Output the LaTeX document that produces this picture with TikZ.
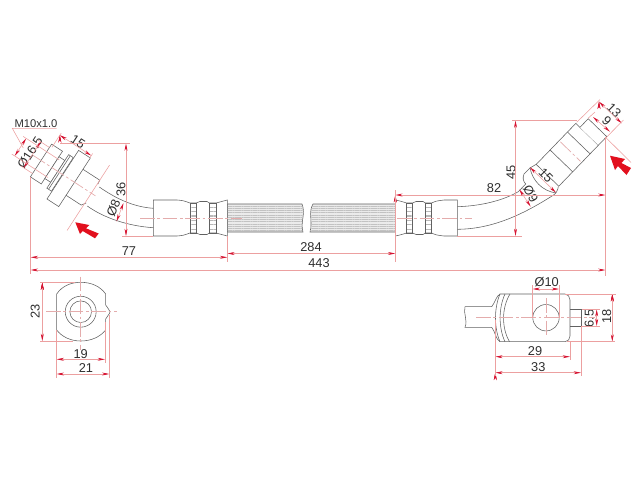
\documentclass[tikz,border=0pt]{standalone}
\usepackage{fontspec}
\setmainfont{Liberation Sans}
\usetikzlibrary{arrows.meta,patterns.meta}

\definecolor{paleline}{RGB}{236,160,160}
\definecolor{centreline}{RGB}{228,172,172}
\definecolor{tipred}{RGB}{214,20,50}
\definecolor{bigred}{RGB}{226,16,30}

\tikzset{
  part/.style={draw=black!62,line width=.42pt},
  ext/.style={draw=paleline,line width=.42pt},
  cline/.style={draw=centreline,line width=.5pt,dash pattern=on 11pt off 2pt on 2pt off 2pt},
  dimline/.style={draw=paleline,line width=.42pt,
    {Stealth[length=5.5pt,width=2.2pt,color=tipred]}-{Stealth[length=5.5pt,width=2.2pt,color=tipred]}},
  bigarrow/.style={fill=bigred,draw=none},
  groove/.style={part,pattern={Lines[angle=0,distance=3.3pt,line width=.9pt]},pattern color=black!28},
  hose/.style={part,fill=black!8,postaction={pattern={Lines[angle=0,distance=1.7pt,line width=.35pt]},pattern color=black!24}}
}

\begin{document}
\begin{tikzpicture}[x=.75pt,y=-.75pt]
  \useasboundingbox (0,0) rectangle (640,480);

  % hose with the break
  \draw[hose] (227.3,204) -- (302,204) .. controls (306,214) and (300,222) .. (303,232) -- (227.3,232) -- cycle;
  \draw[hose] (313,204) .. controls (308,212) and (313,222) .. (310,232) -- (395.3,232) -- (395.3,204) -- cycle;

  % crimp collars
  \draw[part,fill=white] (153.3,200) -- (177,200) .. controls (183,200.5) .. (190,203) -- (196,203)
    .. controls (198,201.5) .. (200,201.5) -- (207,201.5) .. controls (208,201.5) .. (209.5,203) -- (216,203)
    .. controls (221,202) .. (227.3,200) -- (227.3,236) .. controls (221,234) .. (216,233) -- (209.5,233)
    .. controls (208,234.5) .. (207,234.5) -- (200,234.5) .. controls (198,234.5) .. (196,233) -- (190,233)
    .. controls (183,235.5) .. (177,236) -- (153.3,236) -- cycle;
  \draw[groove] (190,203) rectangle (196,233);
  \draw[groove] (209.5,203) rectangle (216,233);
  \draw[part,fill=white] (395.3,200) .. controls (400,201) .. (406.7,203) -- (412.7,203)
    .. controls (414,201.5) .. (416,201.5) -- (423,201.5) .. controls (424,201.5) .. (425.5,203) -- (431.7,203)
    .. controls (436,201) .. (444,200) -- (457.3,200) -- (457.3,236) -- (444,236)
    .. controls (436,235) .. (431.7,233) -- (425.5,233) .. controls (424,234.5) .. (423,234.5) -- (416,234.5)
    .. controls (414,234.5) .. (412.7,233) -- (406.7,233) .. controls (400,235) .. (395.3,236) -- cycle;
  \draw[groove] (406.7,203) rectangle (412.7,233);
  \draw[groove] (425.5,203) rectangle (431.7,233);

  % bent hose ends
  \draw[part] (99.3,187) .. controls (118,200) and (135,207) .. (153.3,208.3);
  \draw[part] (87.3,206) .. controls (104,218) and (128,226) .. (153.3,227.7);
  \draw[part] (457.3,206.7) .. controls (480,206) and (502,201) .. (518.3,191.7);
  \draw[part] (457.3,229.3) .. controls (492,229) and (522,215) .. (552,196);

  % left fitting
  \begin{scope}[shift={(41,160.5)},rotate=-33]
    \draw[part,fill=white] (0,-19.5) rectangle (13,19.5);
    \draw[part,fill=white] (13,-13) rectangle (20,13);
    \draw[part,fill=white] (20,-20) rectangle (25.5,20);
    \draw[part] (22,-20) -- (22,20);
    \draw[part,fill=white] (26,-29) rectangle (40,29);
    \draw[part] (40,-15.5) -- (60,-15.5) .. controls (60.5,-13) .. (60.5,-11);
    \draw[part] (40,15.5) -- (58,15.5) .. controls (60,14) .. (61,11);
    \draw[cline] (-10,0) -- (65,0);
    \coordinate (mten1) at (-24.5,-10.5);
    \coordinate (mten2) at (-24.5,10.5);
    \coordinate (mtenA) at (-28,-10.5);
    \coordinate (mtenB) at (15,-10.5);
    \coordinate (mtenC) at (-28,10.5);
    \coordinate (mtenD) at (15,10.5);
    \coordinate (outer1) at (-10.5,-15.5);
    \coordinate (outer2) at (-10.5,15.5);
    \coordinate (outerA) at (-14,-15.5);
    \coordinate (outerB) at (0,-15.5);
    \coordinate (outerC) at (-14,15.5);
    \coordinate (outerD) at (0,15.5);
    \coordinate (lenA) at (2,-31.5);
    \coordinate (lenB) at (39.5,-31.5);
    \coordinate (lenAext) at (2,-34);
    \coordinate (lenAend) at (2,-17);
    \coordinate (lenBext) at (39.5,-34);
    \coordinate (lenBend) at (39.5,-29);
    \coordinate (plane1) at (60,-33.5);
    \coordinate (plane2) at (60,44.5);
  \end{scope}

  % right fitting
  \draw[part] (536.7,164) -- (530,168) -- (524,174) .. controls (522.5,178) and (523,181) .. (525.7,184) -- (518.3,191.7);
  \draw[part] (558.3,186.7) .. controls (558,190) and (556,194) .. (552,196);
  \draw[part] (530,167.5) .. controls (532,180) and (542,191) .. (556,193);
  \begin{scope}[shift={(547.5,175.3)},rotate=46]
    \draw[part,fill=white] (0,-15.7) rectangle (57,15.7);
    \draw[part,fill=white] (57,-10) -- (69,-10) -- (69,15.7) -- (57,15.7);
    \draw[part] (20,-15.7) -- (20,15.7);
    \draw[part] (45,-15.7) -- (45,15.7);
    \draw[cline] (33,-14) -- (33,14);
  \end{scope}

  % centre lines
  \draw[cline] (140,218) -- (242,218);
  \draw[cline] (397,218) -- (472,218);

  \begin{scope}[every node/.style={inner sep=0pt,text=black!82,font=\fontsize{9.6}{11}\selectfont}]
    % top labels
    \node (mtext)   at (36,123.5) [font=\fontsize{8.4}{10}\selectfont] {M10x1.0};
    \node (tdia)    at (30,152.5) [rotate=57]  {Ø16.5};
    \node (tlenl)   at (78,141.5) [rotate=-33] {15};
    \node (tsix)    at (121,189)  [rotate=90]  {36};
    \node (teight)  at (113.5,208)[rotate=68]  {Ø8};
    \node (tseven)  at (129,251)  {77};
    \node (ttwo)    at (311,247)  {284};
    \node (tfour)   at (319,263)  {443};
    \node (teighty) at (494,188)  {82};
    \node (tforty)  at (511,172.5)[rotate=90]  {45};
    \node (tnine)   at (530.7,194)[rotate=-60] {Ø9};
    \node (tlenr)   at (546,175.5)[rotate=-45] {15};
    \node (tend)    at (606.7,121)[rotate=-45] {9};
    \node (tthir)   at (614,110)  [rotate=-45] {13};
    % left end view labels
    \node (taa)     at (35.3,311.7)[rotate=90] {23};
    \node (tnt)     at (80.7,354.3) {19};
    \node (ttw)     at (86,368.3)   {21};
    % right end view labels
    \node (thole)   at (546.7,281.7) {Ø10};
    \node (tnub)    at (589.3,318.3) [rotate=90] {6.5};
    \node (theight) at (606.7,316.7) [rotate=90] {18};
    \node (tpin)    at (535,351)     {29};
    \node (tall)    at (538.3,366.7) {33};
  \end{scope}

  % named ends of the dimension lines
  \coordinate (a1) at (30.7,257.3);
  \coordinate (a2) at (227.3,257.3);
  \coordinate (b1) at (227.3,253.5);
  \coordinate (b2) at (395.3,253.5);
  \coordinate (c1) at (30.7,270);
  \coordinate (c2) at (605.5,270);
  \coordinate (d1) at (395.3,195);
  \coordinate (d2) at (605.5,195);
  \coordinate (e1) at (515.5,120.5);
  \coordinate (e2) at (515.5,236);
  \coordinate (f1) at (126,143.5);
  \coordinate (f2) at (126,236);
  \coordinate (g1) at (123.5,203);
  \coordinate (g2) at (116.5,221.5);
  \coordinate (h1) at (599,101.7);
  \coordinate (h2) at (621.7,123.3);
  \coordinate (i1) at (593,117);
  \coordinate (i2) at (610,131.7);
  \coordinate (j1) at (530,167.3);
  \coordinate (j2) at (556,192.7);
  \coordinate (k1) at (519.3,189.3);
  \coordinate (k2) at (530.7,206.7);
  \coordinate (l1) at (42.3,282.5);
  \coordinate (l2) at (42.3,341);
  \coordinate (m1) at (56.7,359.3);
  \coordinate (m2) at (105,359.3);
  \coordinate (n1) at (56.7,374);
  \coordinate (n2) at (109.3,374);
  \coordinate (o1) at (532.7,289);
  \coordinate (o2) at (559,289);
  \coordinate (p1) at (612.3,294);
  \coordinate (p2) at (612.3,341.7);
  \coordinate (q1) at (596.7,309.3);
  \coordinate (q2) at (596.7,326);
  \coordinate (r1) at (495.3,356.7);
  \coordinate (r2) at (570,356.7);
  \coordinate (s1) at (495.3,372.7);
  \coordinate (s2) at (581,372.7);

  \path[dimline] (a1) edge (a2) (b1) edge (b2) (c1) edge (c2) (d1) edge (d2);
  \path[dimline] (e1) edge (e2) (f1) edge (f2) (g1) edge (g2) (h1) edge (h2);
  \path[dimline] (i1) edge (i2) (j1) edge (j2) (k1) edge (k2) (l1) edge (l2);
  \path[dimline] (m1) edge (m2) (n1) edge (n2) (o1) edge (o2) (p1) edge (p2);
  \path[dimline] (q1) edge (q2) (r1) edge (r2) (s1) edge (s2);
  \path[dimline] (mten1) edge (mten2) (outer1) edge (outer2) (lenA) edge (lenB);

  % extension lines, top view
  \draw[ext] (30.7,177) -- (30.7,274);
  \draw[ext] (227.3,236) -- (227.3,262);
  \draw[ext] (395.3,190) -- (395.3,262);
  \draw[ext] (605.5,137) -- (605.5,276);
  \draw[ext] (577,120.5) -- (512,120.5);
  \draw[ext] (457.3,236) -- (522,236);
  \draw[ext] (60,143.5) -- (130,143.5);
  \draw[ext] (122,236) -- (153.3,236);
  \draw[ext] (plane1) -- (plane2);
  \draw[ext] (mtenA) -- (mtenB);
  \draw[ext] (mtenC) -- (mtenD);
  \draw[ext] (outerA) -- (outerB);
  \draw[ext] (outerC) -- (outerD);
  \draw[ext] (lenAext) -- (lenAend);
  \draw[ext] (lenBext) -- (lenBend);
  \draw[ext] (56.7,128.3) -- (12.3,128.3) -- (23.3,148);
  \draw[ext] (576.7,122.3) -- (600,99.5);
  \draw[ext] (588,118.3) -- (595,112);
  \draw[ext] (606,137.7) -- (623.5,120);
  \draw[ext] (606,137.7) -- (631,162.5);

  % big red arrows
  \fill[bigarrow] (75.3,222.3) -- (89.3,225) -- (86,228.3) -- (98.7,233.5) -- (95,238.3) -- (82.7,231) -- (80,234) -- cycle;
  \fill[bigarrow] (610,155.7) -- (625,159) -- (621.5,163) -- (631,168) -- (626.5,175) -- (618,166) -- (615,170) -- cycle;

  % left end view
  \draw[part] (56.7,294) .. controls (62,286) and (71,282.3) .. (80.7,282.3) .. controls (91,282.3) and (100,286) .. (105.7,294)
    -- (105.7,305) .. controls (106.5,308) and (110,309) .. (110,311.7) .. controls (110,314.5) and (106.5,316) .. (105.7,319)
    -- (105.7,330) .. controls (100,337) and (91,341) .. (80.7,341) .. controls (71,341) and (62,337) .. (56.7,330) -- cycle;
  \node[circle,part,minimum size=23.2pt,inner sep=0pt] (ringout) at (80.7,311.7) {};
  \node[circle,part,minimum size=16.2pt,inner sep=0pt] (ringin) at (80.7,311.7) {};
  \draw[cline] (46,311.7) -- (116.7,311.7);
  \draw[cline] (80.7,276.7) -- (80.7,350);
  \draw[ext] (40,282.5) -- (75,282.5);
  \draw[ext] (40,341) -- (73,341);
  \draw[ext] (56.7,330) -- (56.7,378);
  \draw[ext] (105,322) -- (105,363);
  \draw[ext] (109.3,315) -- (109.3,378);

  % right end view
  \draw[part] (465,306.7) -- (491.7,306.7) .. controls (495,303) and (496,296) .. (500,294) -- (565,294)
    .. controls (568,294) and (570,297) .. (570,300) -- (570,336) .. controls (570,339) and (568,341.7) .. (565,341.7)
    -- (500,341.7) .. controls (496,340) and (495,331) .. (491.7,327.3) -- (465,327.3)
    .. controls (468,320) and (463,313) .. (465,306.7);
  \draw[part] (500,294) .. controls (494,308) and (494,328) .. (500,341.7);
  \draw[part] (505,294) .. controls (498.5,308) and (498.5,328) .. (505,341.7);
  \draw[part] (510,294) .. controls (501.5,308) and (501.5,328) .. (509.5,341.7);
  \draw[part] (570,309.3) -- (581.7,309.3) -- (581.7,326) -- (570,326);
  \node[circle,part,minimum size=19.8pt,inner sep=0pt] (hole) at (546,317.7) {};
  \draw[cline] (476,317.7) -- (595,317.7);
  \draw[cline] (546,298) -- (546,338);
  \draw[ext] (532.7,285) -- (532.7,318);
  \draw[ext] (559,285) -- (559,318);
  \draw[ext] (565,294) -- (616,294);
  \draw[ext] (567,341.7) -- (615,341.7);
  \draw[ext] (581.7,309.3) -- (600,309.3);
  \draw[ext] (581.7,326) -- (600,326);
  \draw[ext] (495.3,320) -- (495.3,376);
  \draw[ext] (570,341) -- (570,360);
  \draw[ext] (581,326) -- (581,376);
\end{tikzpicture}
\end{document}
